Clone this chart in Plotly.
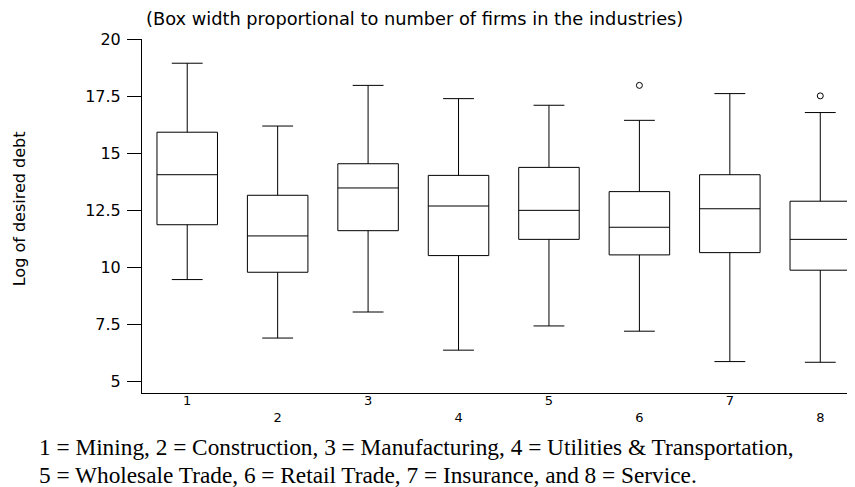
import plotly.graph_objects as go

industries = [1, 2, 3, 4, 5, 6, 7, 8]
tick_labels = ["1", "<br>2", "3", "<br>4", "5", "<br>6", "7", "<br>8"]
lower_whisker = [9.47, 6.91, 8.05, 6.38, 7.44, 7.21, 5.88, 5.85]
q1 = [11.87, 9.79, 11.61, 10.52, 11.23, 10.55, 10.65, 9.88]
median = [14.06, 11.38, 13.48, 12.69, 12.50, 11.76, 12.57, 11.23]
q3 = [15.92, 13.16, 14.54, 14.03, 14.38, 13.32, 14.06, 12.90]
upper_whisker = [18.94, 16.19, 17.97, 17.39, 17.10, 16.44, 17.61, 16.78]
outlier_x = [6, 8]
outlier_y = [17.97, 17.51]

title_text = "(Box width proportional to number of firms in the industries)"
y_title = "Log of desired debt"
caption_lines = [
    "1 = Mining, 2 = Construction, 3 = Manufacturing, 4 = Utilities &amp; Transportation,",
    "5 = Wholesale Trade, 6 = Retail Trade, 7 = Insurance, and 8 = Service.",
]

fig = go.Figure()
fig.add_trace(go.Box(
    x=industries, q1=q1, median=median, q3=q3,
    lowerfence=lower_whisker, upperfence=upper_whisker,
    width=0.669, whiskerwidth=0.51,
    fillcolor="rgba(255,255,255,0)",
    line=dict(color="black", width=1),
    boxpoints=False, showlegend=False, hoverinfo="skip",
))
fig.add_trace(go.Scatter(
    x=outlier_x, y=outlier_y, mode="markers",
    marker=dict(symbol="circle-open", size=6, color="black", line=dict(width=1)),
    showlegend=False, hoverinfo="skip",
))

annotations = [
    dict(text=title_text, xref="paper", yref="paper", x=0.382, y=1.059,
         xanchor="center", yanchor="middle", showarrow=False,
         font=dict(size=17.8, family="DejaVu Sans")),
    dict(text=y_title, xref="paper", yref="paper", x=-0.1706, y=0.52,
         xanchor="center", yanchor="middle", textangle=-90, showarrow=False,
         font=dict(size=16, family="DejaVu Sans")),
]
for line, ypos in zip(caption_lines, [-0.1525, -0.2316]):
    annotations.append(dict(text=line, xref="paper", yref="paper", x=-0.1477, y=ypos,
                            xanchor="left", yanchor="middle", align="left", showarrow=False,
                            font=dict(size=23.3, family="Liberation Serif")))

fig.update_layout(
    width=847, height=479, autosize=False,
    margin=dict(l=134, r=0, t=31, b=94),
    paper_bgcolor="white", plot_bgcolor="white",
    font=dict(family="DejaVu Sans", color="black", size=14),
    xaxis=dict(
        range=[0.5, 8.384], tickmode="array", tickvals=industries, ticktext=tick_labels,
        showgrid=False, zeroline=False, showline=True, linecolor="black", linewidth=1,
        ticks="", ticklabelstandoff=-5, tickfont=dict(size=13, family="DejaVu Sans"),
    ),
    yaxis=dict(
        range=[4.505, 20], tickmode="array", tickvals=[5, 7.5, 10, 12.5, 15, 17.5, 20],
        ticktext=["5", "7.5", "10", "12.5", "15", "17.5", "20"],
        showgrid=False, zeroline=False, showline=True, linecolor="black", linewidth=1,
        ticks="outside", ticklen=14, tickcolor="black", tickwidth=1,
        ticklabelstandoff=3,
        tickfont=dict(size=16, family="DejaVu Sans"),
    ),
    annotations=annotations,
)

fig.write_html("out.html")
